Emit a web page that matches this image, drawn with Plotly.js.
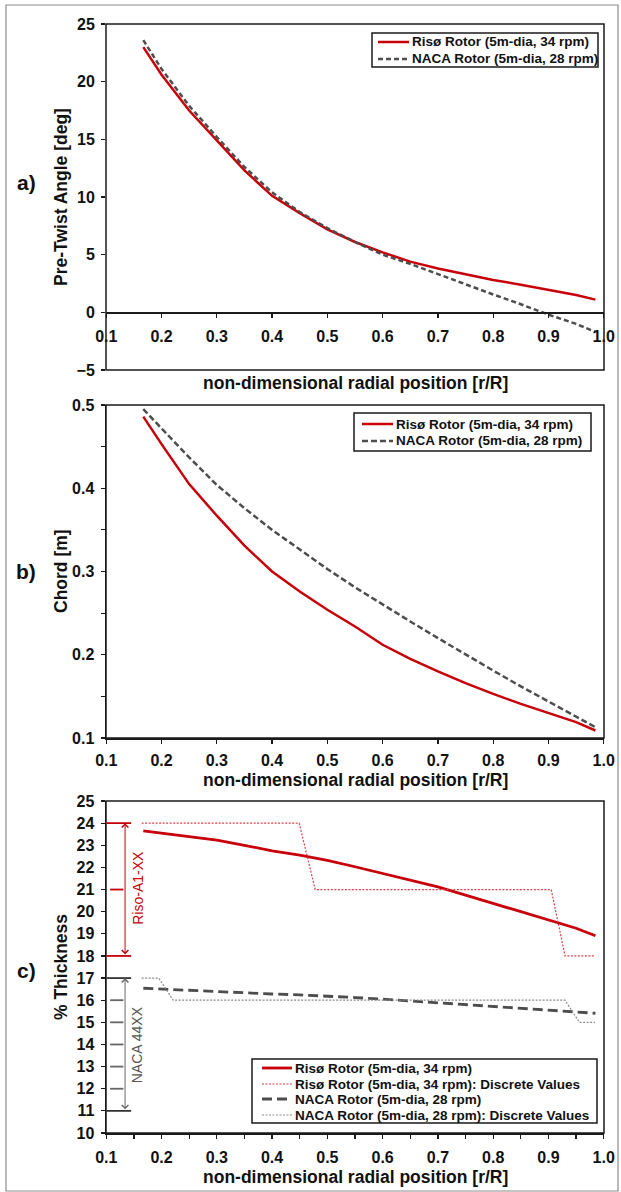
<!DOCTYPE html>
<html>
<head>
<meta charset="utf-8">
<script src="https://cdn.plot.ly/plotly-3.0.1.min.js"></script>
<style>html,body{margin:0;padding:0;background:#fff;}#chart{width:621px;height:1192px;}</style>
</head>
<body>
<div id="chart"></div>
<script>
// ---------- data ----------
const rPos = [0.167,0.2,0.25,0.3,0.35,0.4,0.45,0.5,0.55,0.6,0.65,0.7,0.75,0.8,0.85,0.9,0.95,0.985];

const twistRiso = [23.0,20.6,17.5,14.9,12.3,10.1,8.6,7.2,6.1,5.2,4.4,3.8,3.3,2.8,2.4,1.95,1.5,1.1];
const twistNaca = [23.6,21.1,17.9,15.2,12.6,10.4,8.7,7.3,6.1,5.0,4.2,3.3,2.4,1.55,0.7,-0.2,-1.0,-1.7];

const chordRiso = [0.486,0.453,0.405,0.367,0.331,0.300,0.276,0.254,0.234,0.212,0.195,0.180,0.166,0.153,0.141,0.130,0.119,0.109];
const chordNaca = [0.495,0.472,0.437,0.404,0.376,0.350,0.326,0.303,0.281,0.260,0.240,0.220,0.200,0.181,0.162,0.144,0.126,0.113];

const thickRiso = [23.65,23.55,23.4,23.23,23.0,22.75,22.55,22.32,22.03,21.72,21.43,21.12,20.75,20.37,20.0,19.62,19.25,18.91];
const thickNaca = [16.54,16.5,16.44,16.38,16.33,16.28,16.24,16.19,16.12,16.05,15.97,15.89,15.81,15.73,15.65,15.56,15.48,15.41];

const rRisoDiscrete = [0.164,0.449,0.478,0.905,0.930,0.984];
const thickRisoDiscrete = [24,24,21,21,18,18];
const rNacaDiscrete = [0.164,0.195,0.221,0.930,0.956,0.984];
const thickNacaDiscrete = [17,17,16,16,15,15];

const xTicks = [0.1,0.2,0.3,0.4,0.5,0.6,0.7,0.8,0.9,1.0];

const risoFamily = [24,21,18];             // Riso-A1-XX thickness levels
const nacaFamily = [17,16,15,14,13,12,11]; // NACA 44XX thickness levels

const nameRiso = 'Risø Rotor (5m-dia, 34 rpm)';
const nameNaca = 'NACA Rotor (5m-dia, 28 rpm)';
const nameRisoD = 'Risø Rotor (5m-dia, 34 rpm): Discrete Values';
const nameNacaD = 'NACA Rotor (5m-dia, 28 rpm): Discrete Values';

// ---------- styling ----------
const W = 621, H = 1192;
const px = x => x / W;
const py = y => 1 - y / H;
const FONT = 'Liberation Sans, Arial, sans-serif';
const RED = '#c8000a';
const RED_DOT = '#e0404a';
const GRAY = '#4d4d4d';
const GRAY_DOT = '#8a8a8a';
const AX = '#1a1a1a';

const xDom = [px(106), px(604)];
const dA = [py(370), py(24)];
const dB = [py(738), py(405)];
const dC = [py(1133), py(801)];

const tickFont = {family: FONT, size: 16, weight: 700, color: '#111'};

function xAxisBase(extra) {
  return Object.assign({
    domain: xDom, range: [0.0995, 1.0005], tickmode: 'array', tickvals: xTicks,
    tickformat: '.1f', ticks: 'outside', ticklen: 4, tickwidth: 1.2, tickcolor: AX,
    tickfont: tickFont, ticklabelstandoff: 5, showgrid: false, zeroline: false,
    showline: true, linecolor: AX, linewidth: 1.5, fixedrange: true
  }, extra);
}
function yAxisBase(extra) {
  return Object.assign({
    ticks: 'outside', ticklen: 4, tickwidth: 1.2, tickcolor: AX, tickfont: tickFont,
    ticklabelstandoff: 3, showgrid: false, zeroline: false, showline: true,
    linecolor: AX, linewidth: 1.5, fixedrange: true
  }, extra);
}

const posA = dA[0] + (0 - (-5)) / 30 * (dA[1] - dA[0]);

const stRiso = {color: RED, width: 2.5};
const stNacaA = {color: GRAY, width: 2.5, dash: '5px,3px'};
const stNacaB = {color: GRAY, width: 2.5, dash: '6px,3px'};
const stRisoC = {color: RED, width: 2.8};
const stRisoD = {color: RED_DOT, width: 1.2, dash: '2px,1.5px'};
const stNacaC = {color: GRAY, width: 2.8, dash: '10px,5px'};
const stNacaD = {color: GRAY_DOT, width: 1.2, dash: '2px,1.5px'};

const traces = [
  {x: rPos, y: twistRiso, xaxis: 'x', yaxis: 'y', mode: 'lines', name: nameRiso, line: stRiso},
  {x: rPos, y: twistNaca, xaxis: 'x', yaxis: 'y', mode: 'lines', name: nameNaca, line: stNacaA},
  {x: rPos, y: chordRiso, xaxis: 'x2', yaxis: 'y2', mode: 'lines', name: nameRiso, line: stRiso},
  {x: rPos, y: chordNaca, xaxis: 'x2', yaxis: 'y2', mode: 'lines', name: nameNaca, line: stNacaB},
  {x: rPos, y: thickRiso, xaxis: 'x3', yaxis: 'y3', mode: 'lines', name: nameRiso, line: stRisoC},
  {x: rRisoDiscrete, y: thickRisoDiscrete, xaxis: 'x3', yaxis: 'y3', mode: 'lines', name: nameRisoD, line: stRisoD},
  {x: rPos, y: thickNaca, xaxis: 'x3', yaxis: 'y3', mode: 'lines', name: nameNaca, line: stNacaC},
  {x: rNacaDiscrete, y: thickNacaDiscrete, xaxis: 'x3', yaxis: 'y3', mode: 'lines', name: nameNacaD, line: stNacaD}
];

const shapes = [
  {type: 'rect', xref: 'paper', yref: 'paper', x0: px(6), x1: px(618), y0: py(1191), y1: py(5),
   line: {color: '#8c8c8c', width: 1.2}},
  {type: 'rect', xref: 'x domain', yref: 'y domain', x0: 0, x1: 1, y0: 0, y1: 1, line: {color: AX, width: 1.5}},
  {type: 'rect', xref: 'x2 domain', yref: 'y2 domain', x0: 0, x1: 1, y0: 0, y1: 1, line: {color: AX, width: 1.5}},
  {type: 'rect', xref: 'x3 domain', yref: 'y3 domain', x0: 0, x1: 1, y0: 0, y1: 1, line: {color: AX, width: 1.5}}
];

risoFamily.forEach((v, i) => {
  const end = (i === 0 || i === risoFamily.length - 1);
  shapes.push({type: 'line', xref: 'x3', yref: 'y3', x0: end ? 0.1 : 0.107, x1: end ? 0.145 : 0.131,
    y0: v, y1: v, line: {color: RED, width: 1.8}});
});
nacaFamily.forEach((v, i) => {
  const end = (i === 0 || i === nacaFamily.length - 1);
  shapes.push({type: 'line', xref: 'x3', yref: 'y3', x0: end ? 0.1 : 0.107, x1: end ? 0.145 : 0.131,
    y0: v, y1: v, line: {color: end ? '#333' : '#666', width: 1.8}});
});

const titleFont = {family: FONT, size: 17.5, weight: 700, color: '#111'};
const panelFont = {family: FONT, size: 21, weight: 700, color: '#111'};
const xTitle = 'non-dimensional radial position [r/R]';

function lab(x, y, text, font, angle) {
  return {xref: 'paper', yref: 'paper', x: px(x), y: py(y), text: text, showarrow: false, font: font,
    textangle: angle || 0, xanchor: 'center', yanchor: 'middle'};
}

const annotations = [
  lab(355, 383, xTitle, titleFont),
  lab(355, 780, xTitle, titleFont),
  lab(355, 1177, xTitle, titleFont),
  lab(61, 197, 'Pre-Twist Angle [deg]', titleFont, -90),
  lab(61, 571, 'Chord [m]', titleFont, -90),
  lab(61, 967, '% Thickness', titleFont, -90),
  lab(26, 183, 'a)', panelFont),
  lab(26, 572, 'b)', panelFont),
  lab(26, 970, 'c)', panelFont),
  {xref: 'x3', yref: 'y3', axref: 'x3', ayref: 'y3', x: 0.134, y: risoFamily[0], ax: 0.134, ay: risoFamily[risoFamily.length - 1],
   text: '', showarrow: true, arrowside: 'end+start', arrowhead: 4, arrowsize: 1.3, arrowwidth: 1, arrowcolor: RED,
   standoff: 0, startstandoff: 0},
  {xref: 'x3', yref: 'y3', axref: 'x3', ayref: 'y3', x: 0.134, y: nacaFamily[0], ax: 0.134, ay: nacaFamily[nacaFamily.length - 1],
   text: '', showarrow: true, arrowside: 'end+start', arrowhead: 4, arrowsize: 1.3, arrowwidth: 1, arrowcolor: '#6a6a6a',
   standoff: 0, startstandoff: 0},
  {xref: 'x3', yref: 'y3', x: 0.157, y: 21.07, text: 'Riso-A1-XX', textangle: -90, showarrow: false,
   xanchor: 'center', yanchor: 'middle', font: {family: FONT, size: 14, color: RED}},
  {xref: 'x3', yref: 'y3', x: 0.157, y: 14.0, text: 'NACA 44XX', textangle: -90, showarrow: false,
   xanchor: 'center', yanchor: 'middle', font: {family: FONT, size: 14, color: '#555'}}
];

// compact legends (Excel-style): box, line samples and labels
const legendFont = {family: FONT, size: 13.5, weight: 700, color: '#111'};
function addLegend(box, sample, textX, rows, items) {
  shapes.push({type: 'rect', xref: 'paper', yref: 'paper', x0: px(box[0]), x1: px(box[1]),
    y0: py(box[3]), y1: py(box[2]), fillcolor: '#fff', line: {color: AX, width: 1.5}, layer: 'above'});
  items.forEach((it, i) => {
    shapes.push({type: 'line', xref: 'paper', yref: 'paper', x0: px(sample[0]), x1: px(sample[1]),
      y0: py(rows[i]), y1: py(rows[i]), line: it.line, layer: 'above'});
    annotations.push({xref: 'paper', yref: 'paper', x: px(textX), y: py(rows[i]), text: it.name,
      showarrow: false, xanchor: 'left', yanchor: 'middle', font: legendFont});
  });
}
addLegend([372, 598, 33, 67], [378, 409], 410, [42, 59],
  [{name: nameRiso, line: stRiso}, {name: nameNaca, line: stNacaA}]);
addLegend([354, 591, 413, 451], [362, 393], 394, [424, 441],
  [{name: nameRiso, line: stRiso}, {name: nameNaca, line: stNacaB}]);
addLegend([252, 597, 1059, 1123], [262, 292], 293, [1068, 1084, 1099, 1115],
  [{name: nameRiso, line: stRisoC}, {name: nameRisoD, line: stRisoD},
   {name: nameNaca, line: stNacaC}, {name: nameNacaD, line: stNacaD}]);

const layout = {
  width: W, height: H, autosize: false,
  margin: {l: 0, r: 0, t: 0, b: 0},
  paper_bgcolor: '#fff', plot_bgcolor: '#fff',
  font: {family: FONT},
  showlegend: false,
  xaxis: xAxisBase({anchor: 'free', position: posA}),
  yaxis: yAxisBase({domain: dA, range: [-5, 25], dtick: 5, tick0: 0, anchor: 'x', showline: false}),
  xaxis2: xAxisBase({anchor: 'y2', ticklabelstandoff: 3}),
  yaxis2: yAxisBase({domain: dB, range: [0.1, 0.5], dtick: 0.1, tick0: 0.1, tickformat: '.1f', anchor: 'x2',
    minor: {dtick: 0.05, tick0: 0.1, ticks: 'outside', ticklen: 4, tickwidth: 1.2, tickcolor: AX}}),
  xaxis3: xAxisBase({anchor: 'y3',
    minor: {dtick: 0.05, tick0: 0.1, ticks: 'outside', ticklen: 4, tickwidth: 1.2, tickcolor: AX}}),
  yaxis3: yAxisBase({domain: dC, range: [10, 25], dtick: 1, tick0: 10, anchor: 'x3'}),
  shapes: shapes,
  annotations: annotations
};

Plotly.newPlot('chart', traces, layout, {staticPlot: true, displayModeBar: false});
</script>
</body>
</html>
